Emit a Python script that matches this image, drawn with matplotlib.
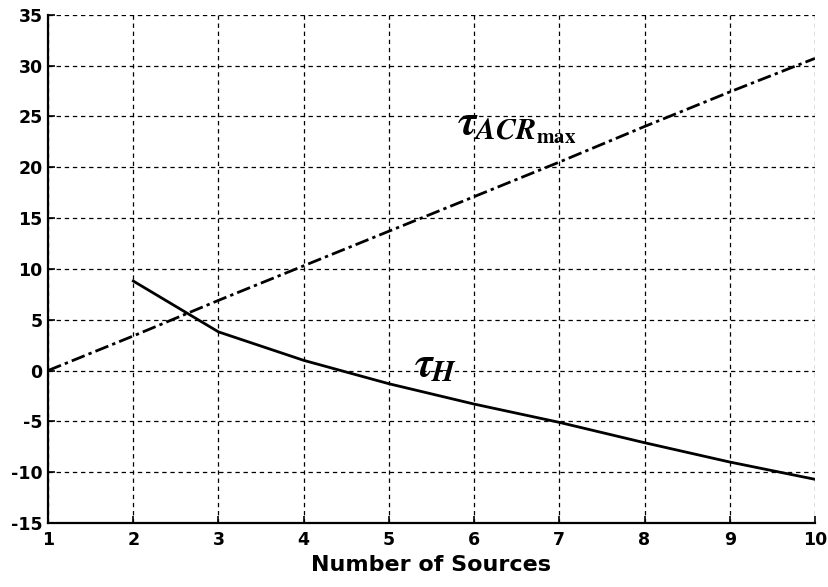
import matplotlib.pyplot as plt

n_sources = [1, 2, 3, 4, 5, 6, 7, 8, 9, 10]
tau_acr_max = [0.0, 3.4, 6.9, 10.3, 13.7, 17.1, 20.5, 24.0, 27.4, 30.7]
n_sources_h = [2, 3, 4, 5, 6, 7, 8, 9, 10]
tau_h = [8.8, 3.8, 1.0, -1.3, -3.3, -5.1, -7.1, -9.0, -10.7]

x_ticks = list(range(1, 11))
y_ticks = list(range(-15, 36, 5))

plt.rcParams["font.family"] = ["DejaVu Sans"]
plt.rcParams["mathtext.fontset"] = "stix"
plt.rcParams["axes.unicode_minus"] = False

fig = plt.figure(figsize=(8.29, 5.87), dpi=100)
ax = fig.add_axes([0.058, 0.109, 0.925, 0.866])

ax.plot(n_sources, tau_acr_max, color="black", linewidth=2.0,
        linestyle=(0, (5, 1.5, 1.2, 1.5)))
ax.plot(n_sources_h, tau_h, color="black", linewidth=2.0)

ax.set_xlim(1, 10)
ax.set_ylim(-15, 35)
ax.set_xticks(x_ticks)
ax.set_yticks(y_ticks)
ax.grid(True, color="black", linestyle=(0, (3.5, 3)), linewidth=0.9)
ax.tick_params(direction="in", length=5, width=1.2, labelsize=12.5)
ax.tick_params(axis="x", pad=6)
ax.tick_params(axis="y", pad=4)
for lbl in ax.get_xticklabels() + ax.get_yticklabels():
    lbl.set_fontweight("bold")
ax.spines["top"].set_visible(False)
ax.spines["right"].set_visible(False)
ax.spines["left"].set_linewidth(1.6)
ax.spines["bottom"].set_linewidth(1.6)
ax.set_xlabel("Number of Sources", fontsize=16, fontweight="bold", labelpad=4)

ax.text(5.8, 23.2, r"$\mathbfit{\tau}_{\mathbfit{ACR}_{\mathbf{max}}}$",
        fontsize=31, ha="left", va="baseline")
ax.text(5.3, -0.6, r"$\mathbfit{\tau}_{\mathbfit{H}}$",
        fontsize=30, ha="left", va="baseline")

fig.savefig("out.png", dpi=100)
